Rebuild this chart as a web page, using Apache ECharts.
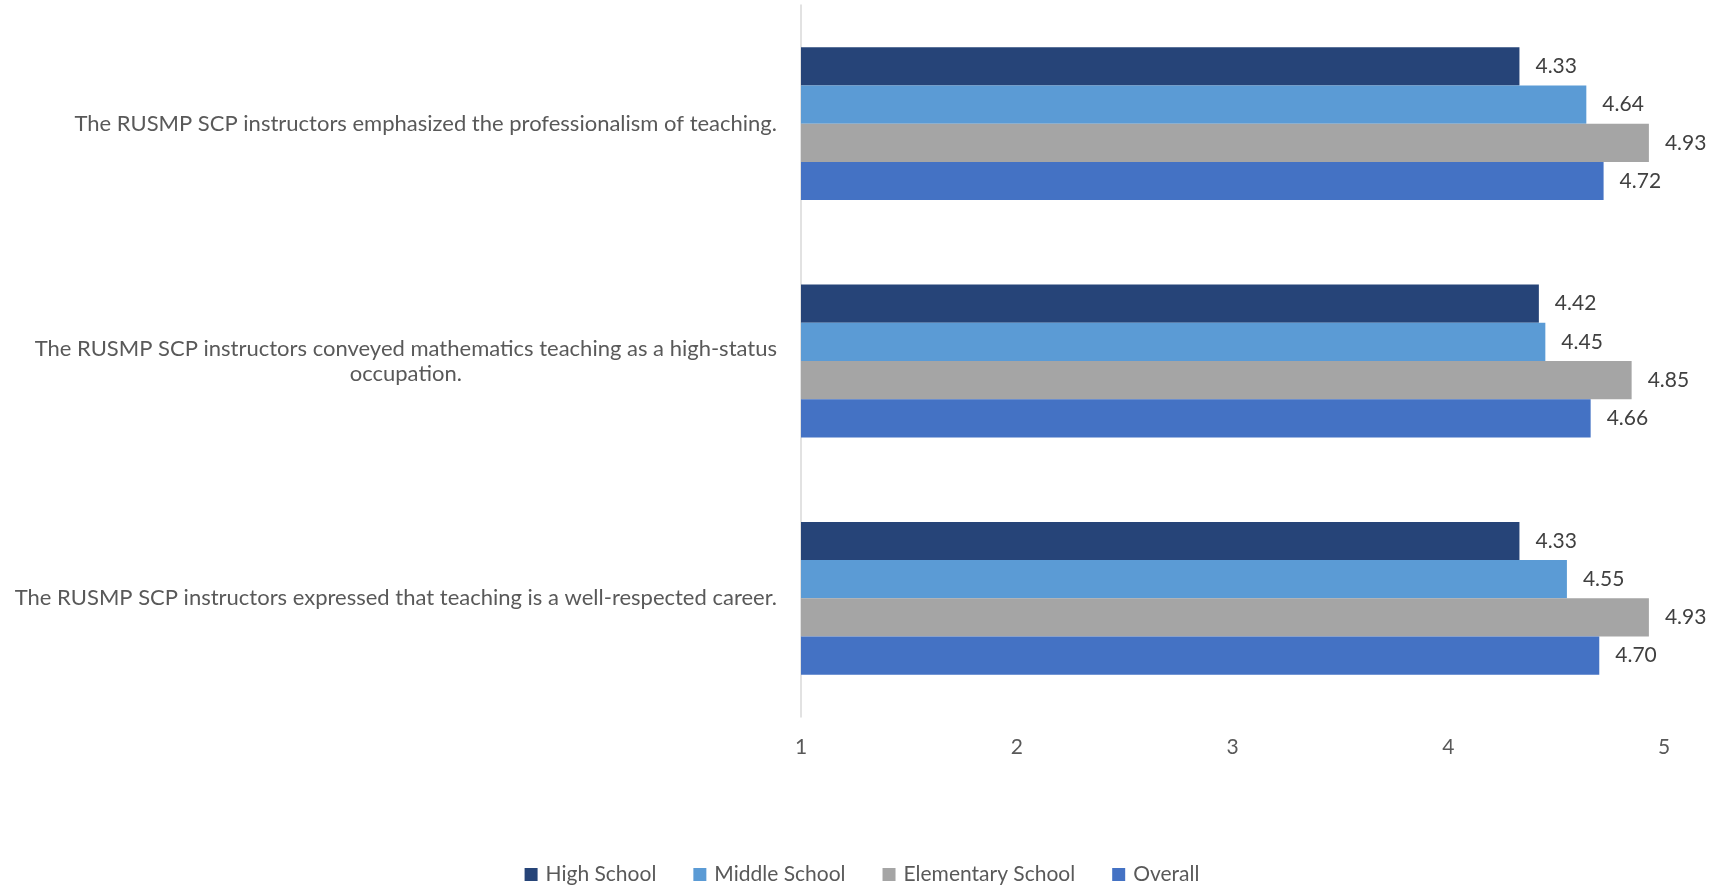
<!DOCTYPE html>
<html>
<head>
<meta charset="utf-8">
<script src="https://cdn.jsdelivr.net/npm/echarts@6/dist/echarts.min.js"></script>
<style>
  html, body { margin: 0; padding: 0; background: #ffffff; }
  #chart { width: 1724px; height: 890px; }
</style>
</head>
<body>
<div id="chart"></div>
<script>
// Survey statements (top to bottom)
const statements = [
  'The RUSMP SCP instructors emphasized the professionalism of teaching.',
  'The RUSMP SCP instructors conveyed mathematics teaching as a high-status\noccupation.',
  'The RUSMP SCP instructors expressed that teaching is a well-respected career.'
];

const seriesNames = ['High School', 'Middle School', 'Elementary School', 'Overall'];

// Mean ratings per group, one value per statement
const highSchool = [4.33, 4.42, 4.33];
const middleSchool = [4.64, 4.45, 4.55];
const elementarySchool = [4.93, 4.85, 4.93];
const overall = [4.72, 4.66, 4.70];

const xTicks = [1, 2, 3, 4, 5];

const colors = ['#264478', '#5B9BD5', '#A5A5A5', '#4472C4'];
const FONT = 'Lato, "Open Sans", sans-serif';

const valuesBySeries = [highSchool, middleSchool, elementarySchool, overall];

const chart = echarts.init(document.getElementById('chart'), null, { renderer: 'canvas' });

const series = seriesNames.map((name, i) => ({
  name: name,
  type: 'bar',
  data: valuesBySeries[i],
  itemStyle: { color: colors[i] },
  barGap: '0%',
  barCategoryGap: '35.6%',
  label: {
    show: true,
    position: 'right',
    distance: 16,
    color: '#404040',
    fontFamily: FONT,
    fontSize: 21,
    formatter: p => p.value.toFixed(2)
  }
}));

chart.setOption({
  animation: false,
  color: colors,
  grid: { left: 801, right: 60, top: 5, bottom: 173, containLabel: false },
  xAxis: {
    type: 'value',
    min: xTicks[0],
    max: xTicks[xTicks.length - 1],
    interval: 1,
    axisLine: { show: false },
    axisTick: { show: false },
    splitLine: { show: false },
    axisLabel: {
      color: '#595959',
      fontFamily: FONT,
      fontSize: 21,
      margin: 20
    }
  },
  yAxis: {
    type: 'category',
    inverse: true,
    data: statements,
    axisLine: { show: true, lineStyle: { color: '#D9D9D9', width: 1.5 } },
    axisTick: { show: false },
    axisLabel: {
      color: '#595959',
      fontFamily: FONT,
      fontSize: 22,
      margin: 24,
      align: 'right',
      formatter: v => v.split('\n').map(line => '{c|' + line + '}').join('\n'),
      rich: {
        c: { align: 'center', color: '#595959', fontFamily: FONT, fontSize: 22, lineHeight: 25 }
      }
    }
  },
  legend: {
    data: seriesNames,
    bottom: 0,
    left: 'center',
    itemWidth: 13,
    itemHeight: 13,
    itemGap: 37,
    icon: 'rect',
    textStyle: { color: '#595959', fontFamily: FONT, fontSize: 21, padding: [0, 0, 0, 3] }
  },
  series: series
});
</script>
</body>
</html>
